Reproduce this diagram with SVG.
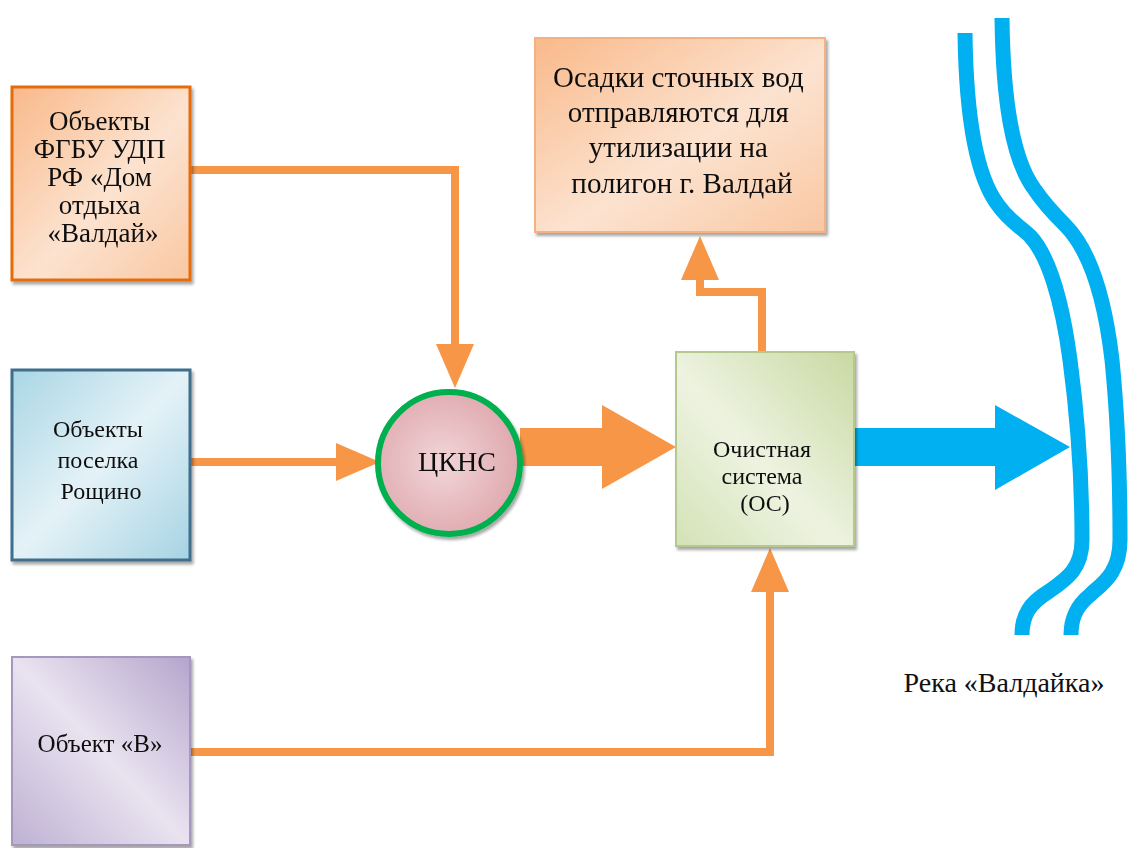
<svg xmlns="http://www.w3.org/2000/svg" width="1128" height="848" viewBox="0 0 1128 848">
  <style>
    .label { font-family: "Liberation Serif", "Times New Roman", serif; fill: #111; text-anchor: middle; }
    .flow { fill: none; stroke: #F79646; stroke-width: 8; stroke-linejoin: miter; }
    .river { fill: none; stroke: #00B0F0; stroke-width: 15; stroke-linecap: butt; }
  </style>
  <defs>
    <linearGradient id="gOrange" x1="0" y1="0" x2="1" y2="1">
      <stop offset="0" stop-color="#F9B98A"/>
      <stop offset="0.55" stop-color="#FCE3D0"/>
      <stop offset="1" stop-color="#F9C7A2"/>
    </linearGradient>
    <linearGradient id="gBlue" x1="0" y1="0" x2="1" y2="1">
      <stop offset="0" stop-color="#A9D6E5"/>
      <stop offset="0.5" stop-color="#E4F2F7"/>
      <stop offset="1" stop-color="#A6D3E3"/>
    </linearGradient>
    <linearGradient id="gPurple" x1="1" y1="0" x2="0" y2="1">
      <stop offset="0" stop-color="#B4A5CC"/>
      <stop offset="0.5" stop-color="#E9E3F0"/>
      <stop offset="1" stop-color="#BEB1D3"/>
    </linearGradient>
    <linearGradient id="gGreen" x1="1" y1="0" x2="0" y2="1">
      <stop offset="0" stop-color="#C8D9A2"/>
      <stop offset="0.55" stop-color="#EEF3E1"/>
      <stop offset="1" stop-color="#D3E2B6"/>
    </linearGradient>
    <radialGradient id="gPink" cx="0.45" cy="0.5" r="0.6">
      <stop offset="0" stop-color="#F2D6D8"/>
      <stop offset="1" stop-color="#DDA5AB"/>
    </radialGradient>
    <filter id="shadow" x="-10%" y="-10%" width="125%" height="125%">
      <feDropShadow dx="2" dy="3" stdDeviation="1.5" flood-color="#000" flood-opacity="0.35"/>
    </filter>
    <marker id="head" markerUnits="userSpaceOnUse" markerWidth="44" markerHeight="40" refX="0" refY="19" orient="auto" viewBox="0 0 44 38">
      <path d="M0,0 L44,19 L0,38 Z" fill="#F79646"/>
    </marker>
  </defs>

  <rect width="1128" height="848" fill="#FFFFFF"/>

  <!-- river banks -->
  <g id="river">
    <path class="river" d="M965,33 C966,110 975,175 998,205 C1010,222 1020,226 1030,236 C1048,255 1062,300 1070,360 C1078,420 1082,480 1082,540 C1082,570 1065,580 1048,592 C1030,603 1022,615 1022,635"/>
    <path class="river" d="M1002,18 C1003,100 1012,160 1035,190 C1045,205 1055,215 1065,225 C1090,250 1105,300 1112,360 C1118,420 1120,480 1120,540 C1120,575 1100,585 1090,595 C1075,607 1071,620 1071,635"/>
  </g>

  <!-- connectors -->
  <g id="connectors">
    <polyline class="flow" points="190,170 455,170 455,344" marker-end="url(#head)"/>
    <polyline class="flow" points="190,462 336,462" marker-end="url(#head)"/>
    <polyline class="flow" points="190,752 770,752 770,592" marker-end="url(#head)"/>
    <polyline class="flow" points="762,352 762,292 700,292 700,280" marker-end="url(#head)"/>
    <polygon points="520,428 602,428 602,405 676,447 602,489 602,466 520,466" fill="#F79646"/>
    <polygon points="855,428 995,428 995,405 1070,447 995,490 995,466 855,466" fill="#00B0F0"/>
  </g>

  <g id="obj-dom" filter="url(#shadow)">
    <rect x="12" y="87" width="178" height="193" fill="url(#gOrange)" stroke="#E46C0A" stroke-width="3"/>
    <text class="label" font-size="27">
      <tspan x="103" y="130">Объекты</tspan>
      <tspan x="103" y="158">ФГБУ УДП</tspan>
      <tspan x="103" y="186">РФ «Дом</tspan>
      <tspan x="103" y="214">отдыха</tspan>
      <tspan x="103" y="242">«Валдай»</tspan>
    </text>
  </g>

  <g id="obj-roshchino" filter="url(#shadow)">
    <rect x="12" y="370" width="178" height="190" fill="url(#gBlue)" stroke="#3F6E8C" stroke-width="3"/>
    <text class="label" font-size="24">
      <tspan x="101" y="437">Объекты</tspan>
      <tspan x="101" y="468">поселка</tspan>
      <tspan x="101" y="499">Рощино</tspan>
    </text>
  </g>

  <g id="obj-b" filter="url(#shadow)">
    <rect x="12" y="657" width="178" height="188" fill="url(#gPurple)" stroke="#A597BE" stroke-width="2"/>
    <text class="label" font-size="25" x="100" y="752">Объект «В»</text>
  </g>

  <g id="sludge" filter="url(#shadow)">
    <rect x="535" y="38" width="290" height="194" fill="url(#gOrange)" stroke="#F4B183" stroke-width="2"/>
    <text class="label" font-size="29">
      <tspan x="682" y="87">Осадки сточных вод</tspan>
      <tspan x="682" y="122">отправляются для</tspan>
      <tspan x="682" y="157">утилизации на</tspan>
      <tspan x="682" y="193">полигон г. Валдай</tspan>
    </text>
  </g>

  <g id="cpns" filter="url(#shadow)">
    <circle cx="449" cy="463" r="71" fill="url(#gPink)" stroke="#00B050" stroke-width="6"/>
    <text class="label" font-size="28" x="457" y="471">ЦКНС</text>
  </g>

  <g id="treatment" filter="url(#shadow)">
    <rect x="676" y="352" width="178" height="194" fill="url(#gGreen)" stroke="#B5C98E" stroke-width="2"/>
    <text class="label" font-size="24">
      <tspan x="765" y="457">Очистная</tspan>
      <tspan x="765" y="484">система</tspan>
      <tspan x="765" y="511">(ОС)</tspan>
    </text>
  </g>

  <g id="river-label">
    <text class="label" font-size="28" x="1004" y="692">Река «Валдайка»</text>
  </g>
</svg>
